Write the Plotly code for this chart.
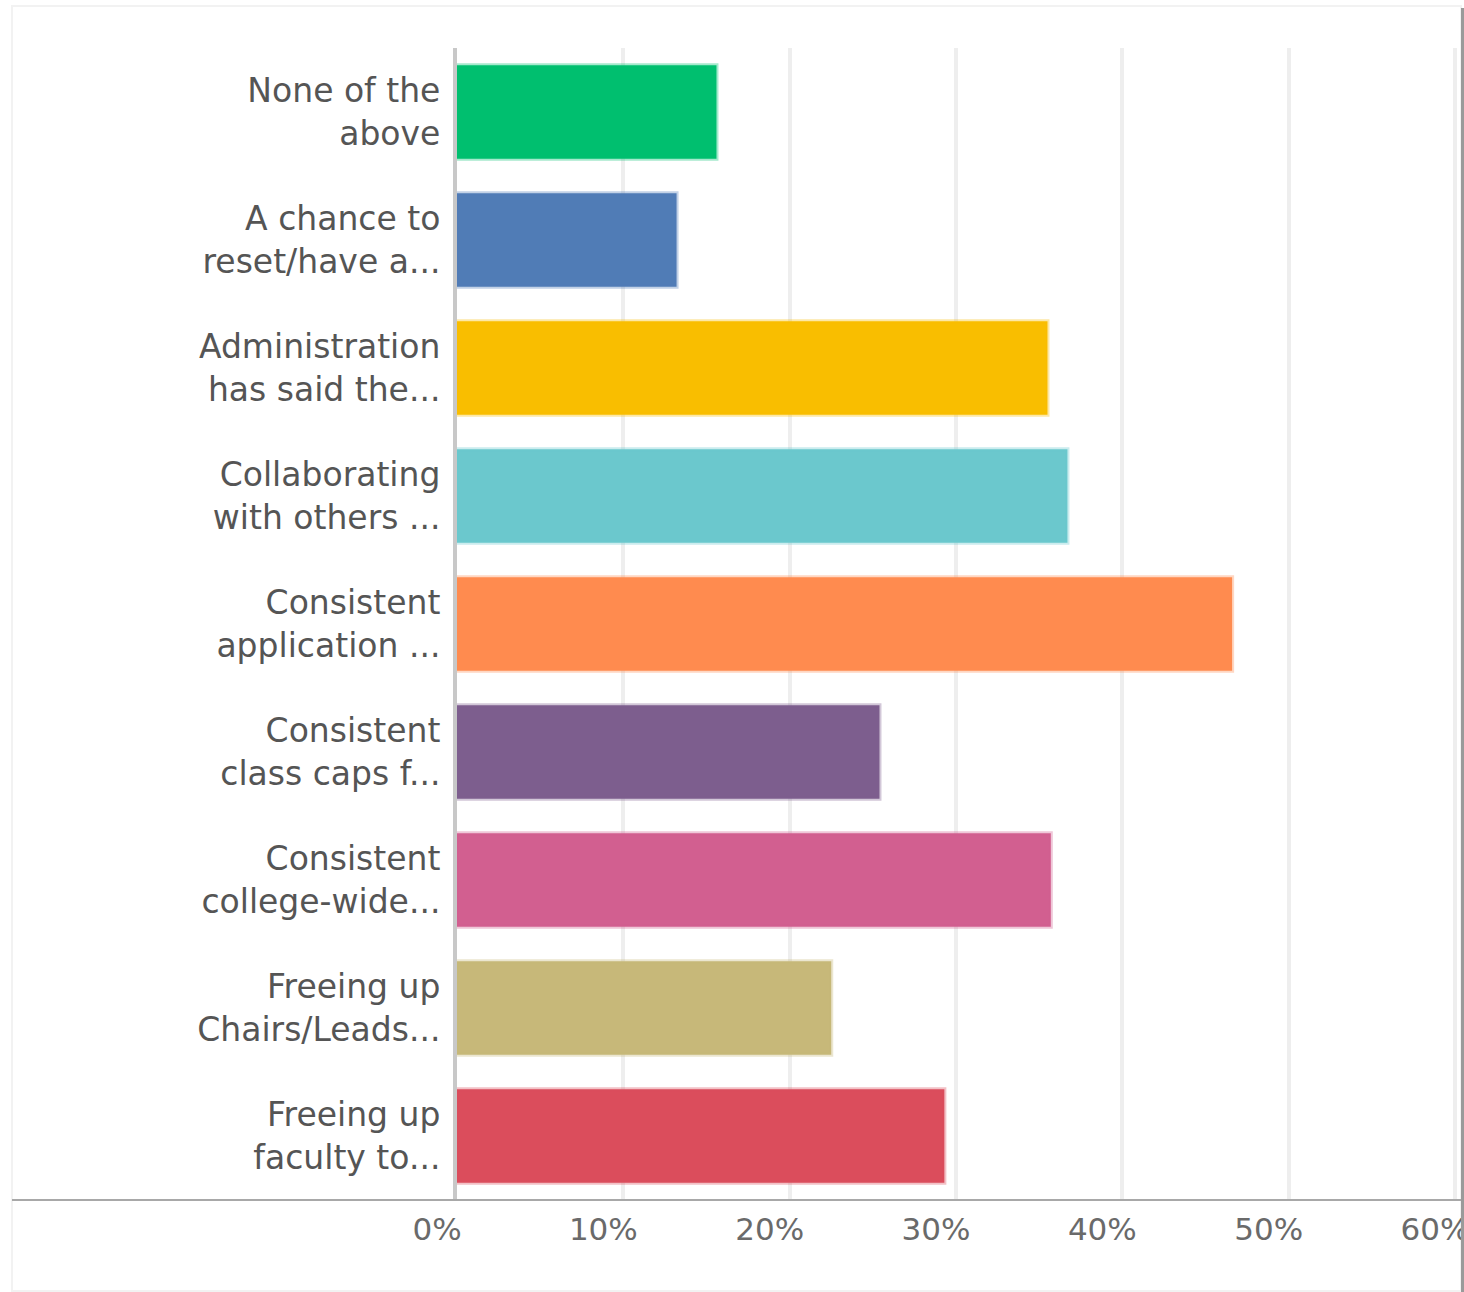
import plotly.graph_objects as go

# Survey responses: share of respondents choosing each option (%)
categories = [
    "None of the<br>above",
    "A chance to<br>reset/have a...",
    "Administration<br>has said the...",
    "Collaborating<br>with others ...",
    "Consistent<br>application ...",
    "Consistent<br>class caps f...",
    "Consistent<br>college-wide...",
    "Freeing up<br>Chairs/Leads...",
    "Freeing up<br>faculty to...",
]
values = [15.6, 13.2, 35.5, 36.7, 46.6, 25.4, 35.7, 22.5, 29.3]
colors = ["#00BF6F", "#507CB6", "#F9BE00", "#6BC8CD", "#FF8B4F",
          "#7D5E8E", "#D25F90", "#C7B879", "#DB4D5C"]
x_ticks = [0, 10, 20, 30, 40, 50, 60]


def hex_rgba(h, a):
    h = h.lstrip("#")
    r, g, b = (int(h[i:i + 2], 16) for i in (0, 2, 4))
    return f"rgba({r},{g},{b},{a})"


W, H = 1464, 1292
L, R, T, B = 457, 4, 48, 92
PW, PH = W - L - R, H - T - B


def px(xp):
    return (xp - L) / PW


def py(yp):
    return (H - B - yp) / PH


fig = go.Figure(go.Bar(
    x=values,
    y=categories,
    orientation="h",
    marker=dict(color=colors,
                line=dict(color=[hex_rgba(c, 0.35) for c in colors], width=4)),
    hoverinfo="x+y",
))

fig.update_layout(
    width=W, height=H,
    margin=dict(l=L, r=R, t=T, b=B),
    paper_bgcolor="white",
    plot_bgcolor="white",
    bargap=0.27,
    showlegend=False,
    font=dict(family="DejaVu Sans", color="#5a5a5a"),
    xaxis=dict(
        range=[0, 60.3],
        tickvals=x_ticks,
        ticktext=[f"{v}%" for v in x_ticks],
        showgrid=True, gridcolor="#eeeeee", gridwidth=4,
        zeroline=False, showline=False, automargin=False,
        ticks="", ticklabelshift=-20, ticklabelstandoff=8,
        ticklabeloverflow="allow",
        tickfont=dict(size=31, color="#6a6a6a"),
    ),
    yaxis=dict(
        autorange="reversed", automargin=False,
        showline=True, linecolor="#c8c8c8", linewidth=4,
        showgrid=False, zeroline=False, ticks="",
        ticklabelstandoff=6,
        tickfont=dict(size=33, color="#555555"),
    ),
    shapes=[
        # faint outer frame
        dict(type="rect", xref="paper", yref="paper",
             x0=px(12), x1=px(1461), y0=py(1291), y1=py(6),
             line=dict(color="#f2f2f2", width=2), layer="below"),
        # baseline running under the labels
        dict(type="line", xref="paper", yref="paper",
             x0=px(12), x1=px(1461), y0=py(1200), y1=py(1200),
             line=dict(color="#a8a8a8", width=2), layer="above"),
        # right edge shadow
        dict(type="rect", xref="paper", yref="paper",
             x0=px(1462), x1=px(1464), y0=py(1292), y1=py(8),
             fillcolor="white", line=dict(width=0), layer="above"),
        dict(type="line", xref="paper", yref="paper",
             x0=px(1462.5), x1=px(1462.5), y0=py(1292), y1=py(8),
             line=dict(color="#9a9a9a", width=3), layer="above"),
    ],
)

fig.write_html("out.html")
